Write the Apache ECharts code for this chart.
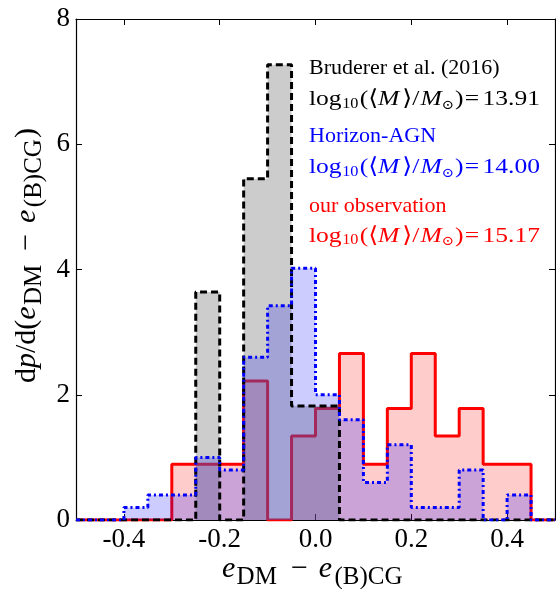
<!DOCTYPE html>
<html><head><meta charset="utf-8">
<script src="https://cdn.jsdelivr.net/npm/echarts@6/dist/echarts.min.js"></script>
<style>html,body{margin:0;padding:0;background:#fff}#c{width:556px;height:589px}</style>
</head><body><div id="c"></div>
<script>
// ---- data ----
const binEdges = [-0.5,-0.45,-0.4,-0.35,-0.3,-0.25,-0.2,-0.15,-0.1,-0.05,0,0.05,0.1,0.15,0.2,0.25,0.3,0.35,0.4,0.45,0.5];
const bruderer = [0,0,0,0,0,3.64,0,5.45,7.27,1.82,1.82,0,0,0,0,0,0,0,0,0];
const horizonAGN = [0,0,0.2,0.4,0.4,1.0,0.8,2.6,3.42,4.02,2.0,1.6,0.6,1.2,0.2,0.2,0.8,0,0.4,0];
const observation = [0,0,0,0,0.89,0.89,0.89,2.22,0,1.34,1.78,2.66,0.89,1.78,2.66,1.34,1.78,0.89,0.89,0];
const xTicks = [-0.4,-0.2,0.0,0.2,0.4];
const yTicks = [0,2,4,6,8];
const legendNames = ['Bruderer et al. (2016)','Horizon-AGN','our observation'];
const legendMass = ['13.91','14.00','15.17'];
const legendColors = ['#000000','#0000ff','#ff0000'];

const SERIF = '"Liberation Serif","DejaVu Serif",serif';

function stepData(vals){
  const d = vals.map((v,i)=>[binEdges[i], v]);
  d.push([binEdges[vals.length], vals[vals.length-1]]);
  return d;
}

// --- text layout helpers (baseline-accurate placement of math pieces) ---
const mctx = document.createElement('canvas').getContext('2d');
function fontStr(size, italic){ return (italic?'italic ':'') + size + 'px ' + SERIF; }
function midOffset(font){ mctx.font = font; mctx.textBaseline='alphabetic';
  const m = mctx.measureText('x');
  return (m.fontBoundingBoxAscent - m.fontBoundingBoxDescent) / 2; }
function textW(t, font){ mctx.font = font; return mctx.measureText(t).width; }
function piece(t, size, italic, x, baseline, color, align){
  const f = fontStr(size, italic);
  return {type:'text', x:x, y:baseline - midOffset(f), z:100, silent:true,
    style:{text:t, font:f, fill:color, align:align||'left', verticalAlign:'middle'}};
}
function rpiece(t, size, italic, baseX, u, startY, color){
  const f = fontStr(size, italic);
  return {type:'text', x:baseX - midOffset(f), y:startY - u, rotation:Math.PI/2, z:100, silent:true,
    style:{text:t, font:f, fill:color, align:'left', verticalAlign:'middle'}};
}

const graphics = [];
const nameBaselines = [75.7,144,214];
const massBaselines = [106.7,175,243.3];
const LX = 309, MATH_W = 231;
legendNames.forEach((name,k)=>{
  const c = legendColors[k];
  graphics.push(piece(name, 22, false, LX, nameBaselines[k], c));
  const b = massBaselines[k];
  // token: [text, size, italic, baseline shift, gap after]
  const toks = [['log',22,false,0,0.5],['10',14,false,2,1],['(⟨',22,false,0,0],['M',22,true,0,2.5],
    ['⟩/',22,false,0,1],['M',22,true,0,0],['⊙',13,false,3,0.5],[')',22,false,0,1],['=',22,false,0,3],[legendMass[k],22,false,0,0]];
  let x = 0; const kids = [];
  toks.forEach(([t,s,it,dy,g])=>{ kids.push(piece(t,s,it,x,b+dy,c)); x += textW(t,fontStr(s,it)) + g; });
  graphics.push({type:'group', x:LX, y:0, scaleX:MATH_W/x, children:kids});
});

// x axis title  e_DM − e_(B)CG
const XB = 580, XS = 222;
graphics.push(piece('e', 30, true, XS, XB, '#000'));
graphics.push(piece('DM', 25, false, XS+14.6, XB+6, '#000'));
graphics.push(piece('−', 30, false, XS+77.4, XB, '#000', 'center'));
graphics.push(piece('e', 30, true, XS+96.7, XB, '#000'));
graphics.push(piece('(B)CG', 25, false, XS+112.5, XB+6, '#000'));

// y axis title  dp/d(e_DM − e_(B)CG)  rotated
const YB = 37.5, YS = 383;
let u = 0;
const pre = [['d',false],['p',true],['/',false],['d',false],['(',false]];
pre.forEach(([t,it])=>{ graphics.push(rpiece(t, 30, it, YB, u, YS, '#000')); u += textW(t, fontStr(30,it)); });
graphics.push(rpiece('e', 30, true, YB, u, YS, '#000'));
graphics.push(rpiece('DM', 25, false, YB+5.5, u+14.6, YS, '#000'));
graphics.push(rpiece('−', 30, false, YB, u+77.4-textW('−',fontStr(30,false))/2, YS, '#000'));
graphics.push(rpiece('e', 30, true, YB, u+96.7, YS, '#000'));
graphics.push(rpiece('(B)CG', 25, false, YB+5.5, u+112.5, YS, '#000'));
graphics.push(rpiece(')', 30, false, YB, u+112.5+textW('(B)CG',fontStr(25,false))+1, YS, '#000'));

const tickStyle = {show:true,inside:true,length:6,lineStyle:{color:'#000',width:1}};
const lineStyleAx = {show:true,onZero:false,lineStyle:{color:'#000',width:1.2}};

const chart = echarts.init(document.getElementById('c'), null, {renderer:'canvas'});
chart.setOption({
  animation:false,
  backgroundColor:'#fff',
  grid:{left:76,right:1,top:19,bottom:69,containLabel:false},
  xAxis:[
    {type:'value',min:-0.5,max:0.5,position:'bottom',axisLine:lineStyleAx,splitLine:{show:false},
      axisTick:Object.assign({customValues:xTicks},tickStyle),
      axisLabel:{customValues:xTicks,margin:6,color:'#000',fontSize:27,fontFamily:SERIF,formatter:v=>v.toFixed(1)}},
    {type:'value',min:-0.5,max:0.5,position:'top',axisLine:lineStyleAx,splitLine:{show:false},
      axisTick:Object.assign({customValues:xTicks},tickStyle),axisLabel:{show:false}}
  ],
  yAxis:[
    {type:'value',min:0,max:8,interval:2,position:'left',axisLine:lineStyleAx,splitLine:{show:false},
      axisTick:Object.assign({customValues:yTicks},tickStyle),
      axisLabel:{customValues:yTicks,margin:6,color:'#000',fontSize:27,fontFamily:SERIF}},
    {type:'value',min:0,max:8,interval:2,position:'right',axisLine:lineStyleAx,splitLine:{show:false},
      axisTick:Object.assign({customValues:yTicks},tickStyle),axisLabel:{show:false}}
  ],
  series:[
    {name:'our observation',type:'line',step:'end',data:stepData(observation),showSymbol:false,z:1,
      lineStyle:{color:'#ff0000',width:3},areaStyle:{color:'rgba(255,0,0,0.2)',opacity:1}},
    {name:'Bruderer fill',type:'line',step:'end',data:stepData(bruderer),showSymbol:false,z:2,
      lineStyle:{width:0},areaStyle:{color:'rgba(128,128,128,0.4)',opacity:1}},
    {name:'Horizon fill',type:'line',step:'end',data:stepData(horizonAGN),showSymbol:false,z:3,
      lineStyle:{width:0},areaStyle:{color:'rgba(0,0,255,0.2)',opacity:1}},
    {name:'Bruderer et al. (2016)',type:'line',step:'end',data:stepData(bruderer),showSymbol:false,z:4,
      lineStyle:{color:'#000',width:3,type:[7,4]}},
    {name:'Horizon-AGN',type:'line',step:'end',data:stepData(horizonAGN),showSymbol:false,z:5,
      lineStyle:{color:'#0000ff',width:3,type:[4,3,2,3]}}
  ],
  graphic:graphics
});
</script></body></html>
